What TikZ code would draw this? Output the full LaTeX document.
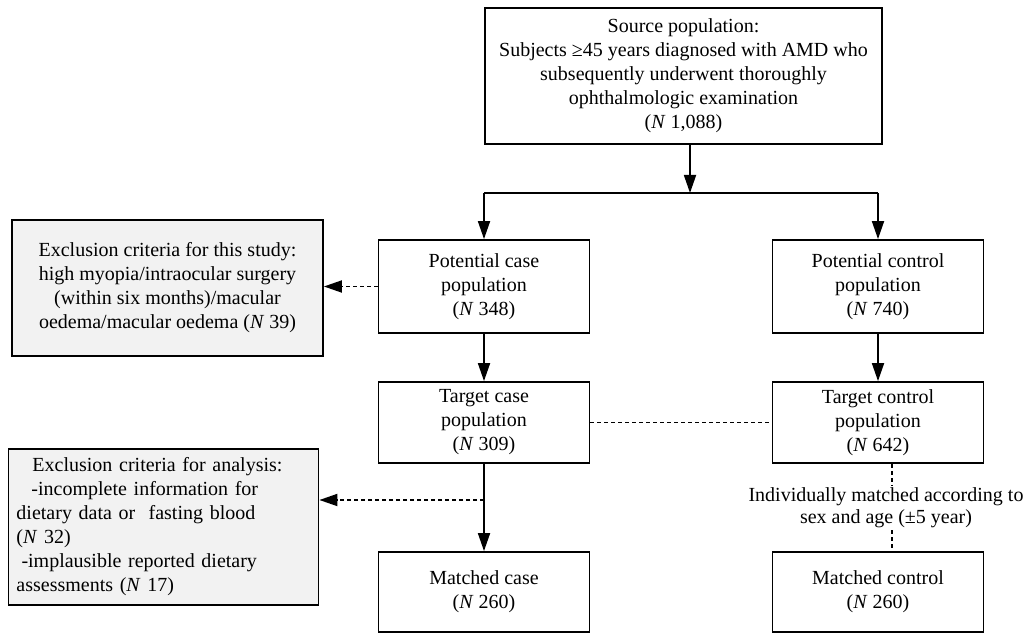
\documentclass[tikz,border=0pt]{standalone}
\usepackage{fontspec}
\setmainfont{Liberation Serif}
\usetikzlibrary{arrows.meta}
\definecolor{exclgray}{RGB}{242,242,242}

\begin{document}
\begin{tikzpicture}[x=0.5pt,y=-0.5pt,
    box/.style={draw,line width=0.9pt,align=center,inner sep=2pt,font=\fontsize{10}{12}\selectfont},
    exclbox/.style={box,fill=exclgray},
    flow/.style={-{Triangle[length=9pt,width=6pt]},line width=0.9pt},
    dflow/.style={flow,dash pattern=on 2pt off 1.5pt},
    dline/.style={line width=0.9pt,dash pattern=on 2pt off 1.5pt}]
    \useasboundingbox (0,0) rectangle (1028,635);

    % Population boxes
    \node[box,minimum width=198.5pt,minimum height=68pt] (src) at (683.5,76) {Source population:\\Subjects ≥45 years diagnosed with AMD who\\subsequently underwent thoroughly\\ophthalmologic examination\\(\textit{N}~1,088)};
    \node[box,minimum width=105.5pt,minimum height=46.5pt] (pcase) at (484,286.5) {Potential case\\population\\(\textit{N}~348)};
    \node[box,minimum width=105.5pt,minimum height=46.5pt] (pctrl) at (878,286.5) {Potential control\\population\\(\textit{N}~740)};
    \node[box,minimum width=105.5pt,minimum height=40.5pt] (tcase) at (484,422.5) {Target case\\population\\(\textit{N}~309)};
    \node[box,minimum width=105.5pt,minimum height=40.5pt] (tctrl) at (878,422.5) {Target control\\population\\(\textit{N}~642)};
    \node[box,minimum width=105.5pt,minimum height=40pt] (mcase) at (484,592) {Matched case\\(\textit{N}~260)};
    \node[box,minimum width=105.5pt,minimum height=40pt] (mctrl) at (878,592) {Matched control\\(\textit{N}~260)};

    % Exclusion boxes
    \node[exclbox,minimum width=155.5pt,minimum height=68pt] (excl1) at (167.5,288) {Exclusion criteria for this study:\\high myopia/intraocular surgery\\(within six months)/macular\\oedema/macular oedema (\textit{N}~39)};
    \node[exclbox,align=left,text width=147pt,inner sep=4pt,minimum height=78pt] (excl2) at (163.5,527) {\hspace*{8pt}Exclusion criteria for analysis:\\\hspace*{7.5pt}-incomplete information for\\dietary data or\ \ fasting blood\\(\textit{N}~32)\\\hspace*{2.5pt}-implausible reported dietary\\assessments (\textit{N}~17)};

    % Matching label
    \node[font=\fontsize{10}{11}\selectfont,align=center,inner sep=1pt] (match) at (886,508) {Individually matched according to\\sex and age (±5 year)};

    % Arrows
    \coordinate (split) at (690,193);
    \coordinate (branch) at (484,500);
    \coordinate (mx) at (892,0);
    \draw[flow] (src.south -| split) -- (split);
    \draw[line width=0.9pt] (split -| pcase) -- (split -| pctrl);
    \draw[flow] (split -| pcase) -- (pcase.north);
    \draw[flow] (split -| pctrl) -- (pctrl.north);
    \draw[dflow] (pcase.west) -- (pcase.west -| excl1.east);
    \draw[flow] (pcase) -- (tcase);
    \draw[flow] (pctrl) -- (tctrl);
    \draw[dline] (tcase) -- (tctrl);
    \draw[flow] (tcase) -- (mcase);
    \draw[dflow] (branch) -- (branch -| excl2.east);
    \draw[dline] (tctrl.south -| mx) -- (match.north -| mx);
    \draw[dline] (match.south -| mx) -- (mctrl.north -| mx);
\end{tikzpicture}
\end{document}
